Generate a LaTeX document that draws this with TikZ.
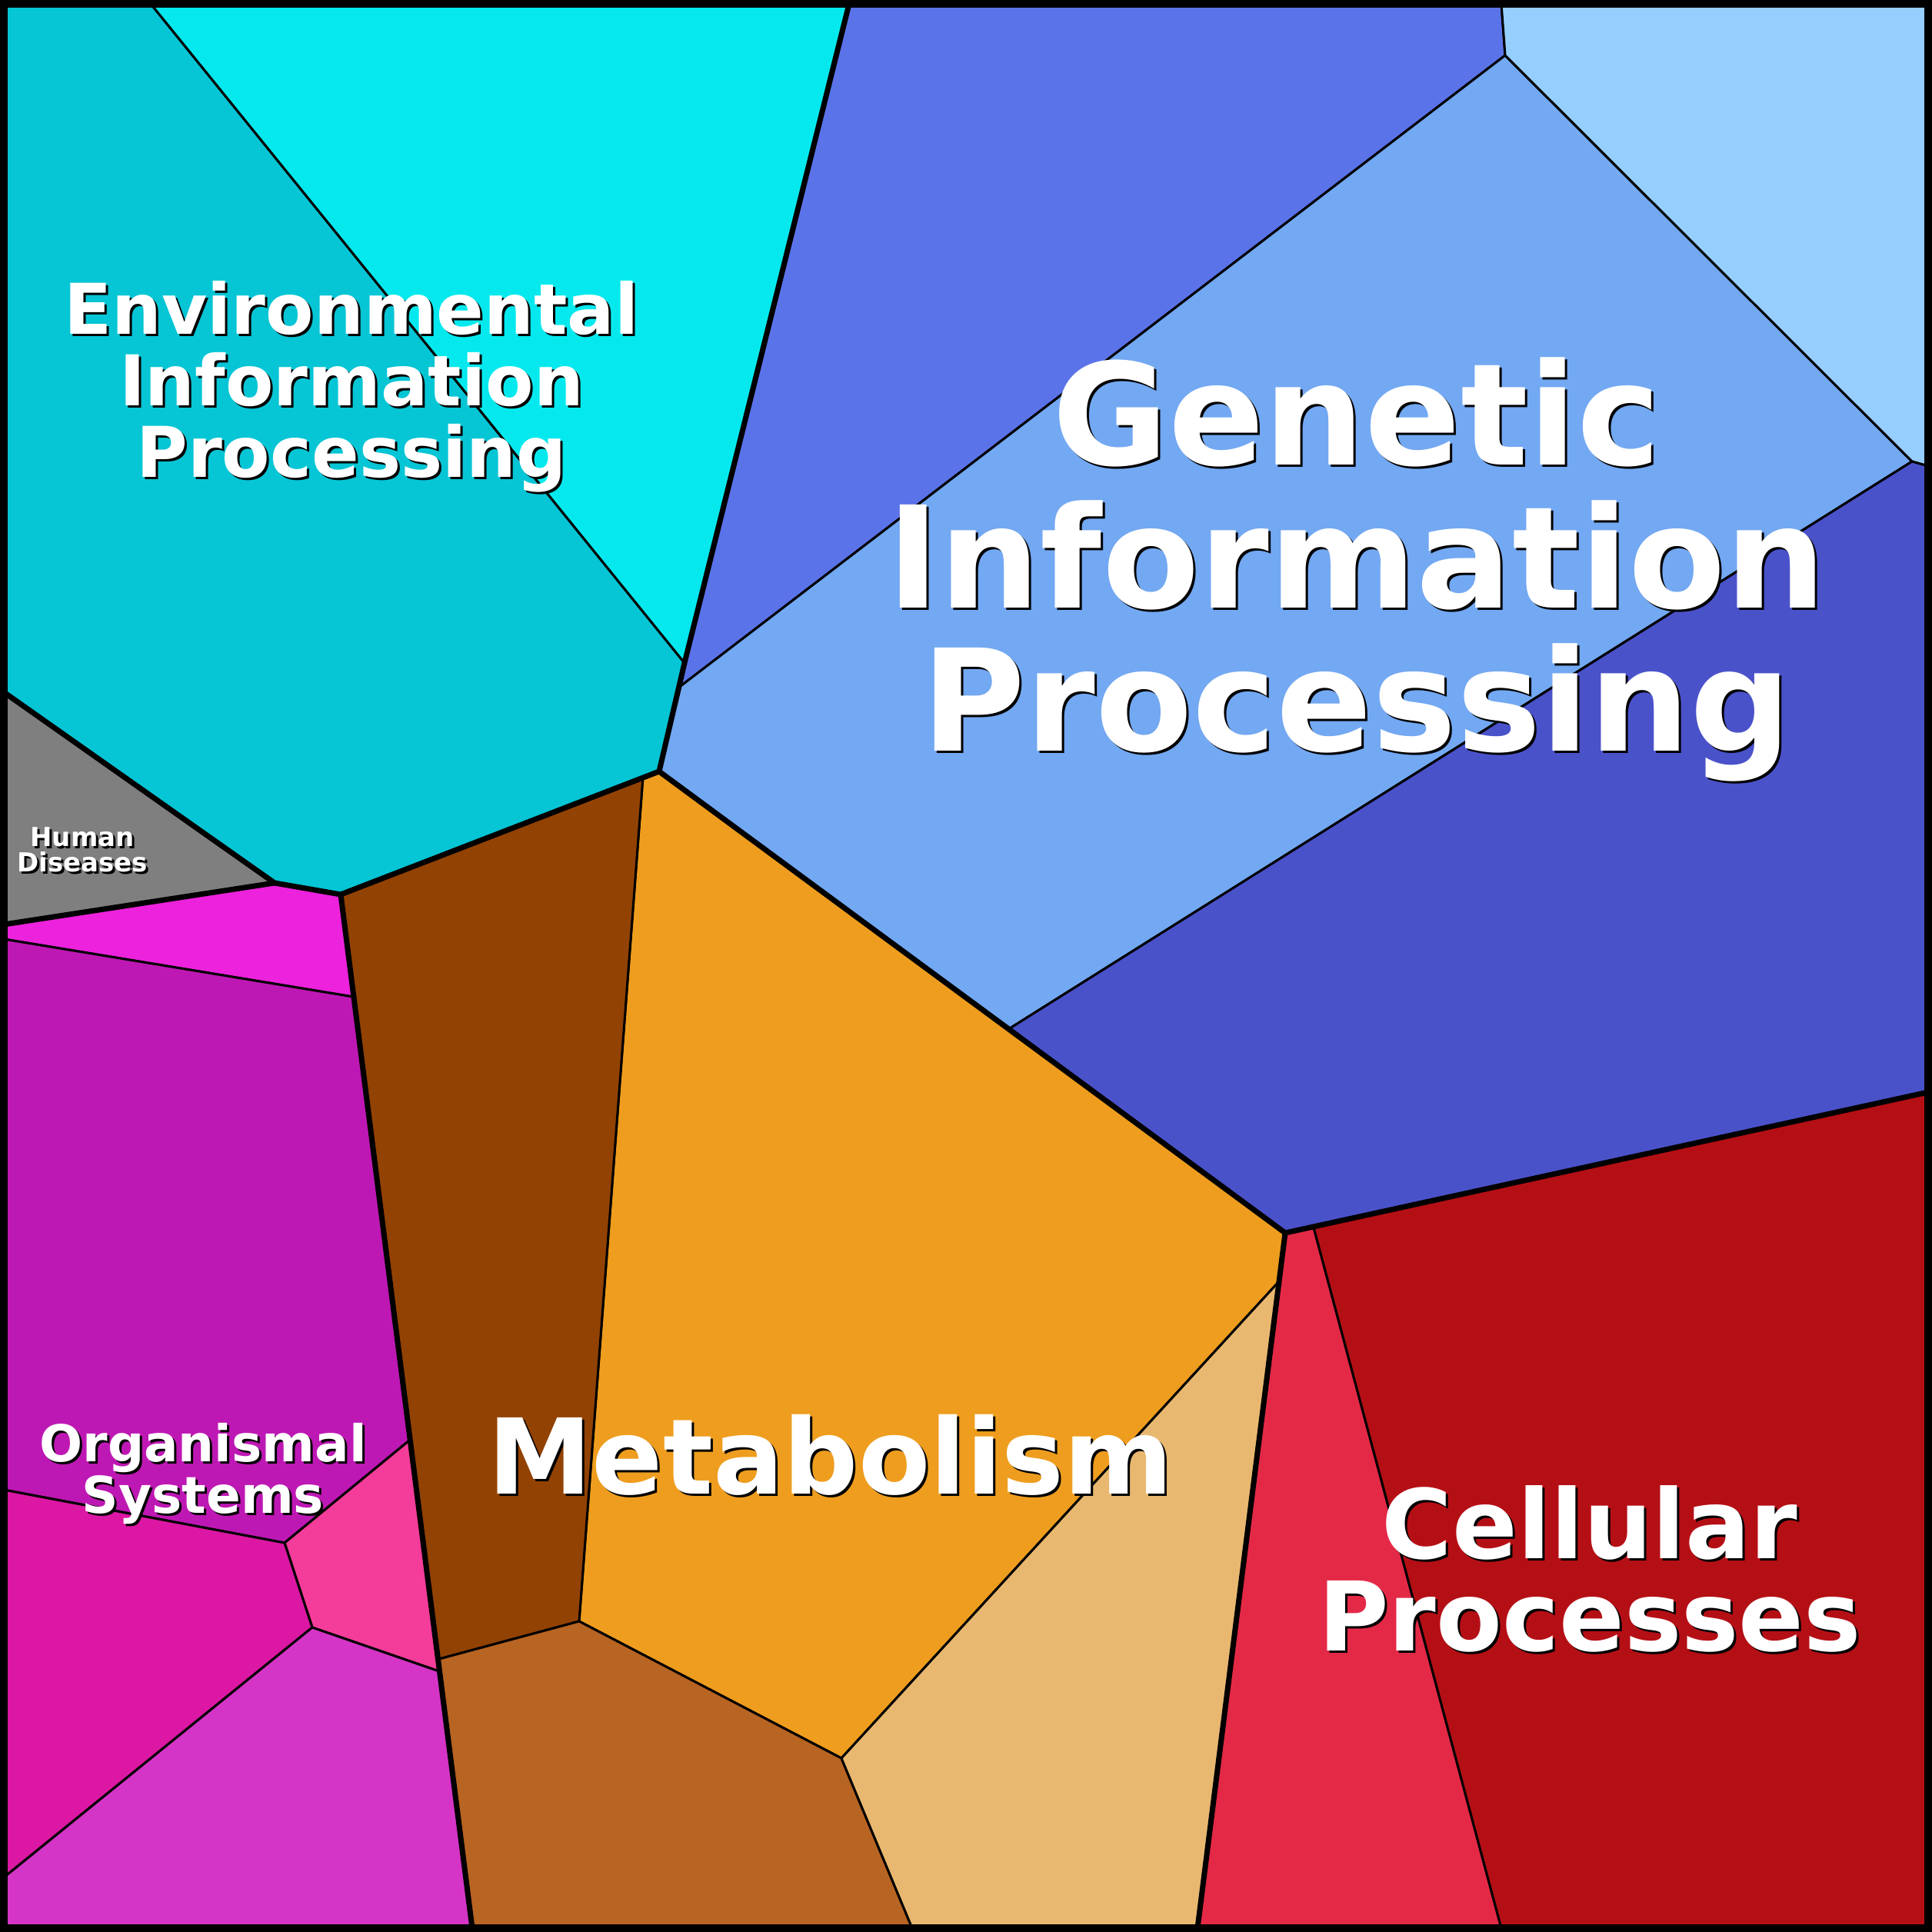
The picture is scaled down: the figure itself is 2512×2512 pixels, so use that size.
\documentclass[tikz,border=0pt]{standalone}
\usepackage{fontspec}
\setmainfont{DejaVu Sans}
\begin{document}
\begin{tikzpicture}[x=1pt,y=-1pt,
 cell/.style={draw=black,line width=3pt,line join=round},
 thick/.style={draw=black,line width=7pt,line join=round,line cap=round}]
\useasboundingbox (0,0) rectangle (2512,2512);
\definecolor{c1}{HTML}{06C5D5}\definecolor{c2}{HTML}{05E9EE}
\definecolor{c3}{HTML}{5B73E8}\definecolor{c4}{HTML}{73A8F2}
\definecolor{c5}{HTML}{96CEFD}\definecolor{c6}{HTML}{4A52CA}
\definecolor{c7}{HTML}{EE9D1E}\definecolor{c8}{HTML}{924203}
\definecolor{c9}{HTML}{B86422}\definecolor{c10}{HTML}{E8B870}
\definecolor{c11}{HTML}{E42947}\definecolor{c12}{HTML}{B50F16}
\definecolor{c13}{HTML}{7F7F7F}\definecolor{c14}{HTML}{EC22DD}
\definecolor{c15}{HTML}{BE18B4}\definecolor{c16}{HTML}{F43C9A}
\definecolor{c17}{HTML}{DB17A3}\definecolor{c18}{HTML}{D435C6}
\fill[c1,cell] (5,5)--(196,5)--(890,862)--(857,1003)--(443,1163)--(357,1148)--(5,900)--cycle;
\fill[c2,cell] (196,5)--(1104,5)--(890,862)--cycle;
\fill[c3,cell] (1104,5)--(1952,5)--(1957,72)--(885,892)--(890,862)--cycle;
\fill[c4,cell] (1957,72)--(2486,600)--(1313,1337)--(857,1003)--(885,892)--cycle;
\fill[c5,cell] (1952,5)--(2507,5)--(2507,606)--(2486,600)--(1957,72)--cycle;
\fill[c6,cell] (2486,600)--(2507,606)--(2507,1420)--(1671,1603)--(1313,1337)--cycle;
\fill[c7,cell] (857,1003)--(1313,1337)--(1671,1603)--(1664,1665)--(1094,2286)--(753,2108)--(836,1010)--cycle;
\fill[c8,cell] (857,1003)--(836,1010)--(753,2108)--(571,2157)--(443,1163)--cycle;
\fill[c9,cell] (571,2157)--(753,2108)--(1094,2286)--(1186,2507)--(614,2507)--cycle;
\fill[c10,cell] (1094,2286)--(1664,1665)--(1557,2507)--(1186,2507)--cycle;
\fill[c11,cell] (1671,1603)--(1708,1596)--(1952,2507)--(1557,2507)--cycle;
\fill[c12,cell] (1708,1596)--(2507,1420)--(2507,2507)--(1952,2507)--cycle;
\fill[c13,cell] (5,900)--(357,1148)--(5,1202)--cycle;
\fill[c14,cell] (5,1202)--(357,1148)--(443,1163)--(459,1296)--(5,1221)--cycle;
\fill[c15,cell] (5,1221)--(459,1296)--(532,1873)--(370,2006)--(5,1937)--cycle;
\fill[c16,cell] (370,2006)--(532,1873)--(571,2173)--(406,2116)--cycle;
\fill[c17,cell] (5,1937)--(370,2006)--(406,2116)--(5,2441)--cycle;
\fill[c18,cell] (5,2441)--(406,2116)--(571,2173)--(614,2507)--(5,2507)--cycle;
\draw[thick] (1104,5)--(890,862)--(857,1003)--(443,1163)--(357,1148)--(5,900);
\draw[thick] (357,1148)--(5,1202);
\draw[thick] (443,1163)--(614,2507);
\draw[thick] (857,1003)--(1671,1603)--(1557,2507);
\draw[thick] (1671,1603)--(2507,1420);
\draw[draw=black,line width=10pt] (5,5) rectangle (2507,2507);
\foreach \dx/\dy/\col in {3/3/black,0/0/white}{
\node[text=\col,font=\fontsize{184}{186}\selectfont\bfseries,align=center] (ng\col) at (1764+\dx,740+\dy) {Genetic\\Information\\Processing};
\node[text=\col,font=\fontsize{91}{93}\selectfont\bfseries,align=center] (ne\col) at (457+\dx,503+\dy) {Environmental\\Information\\Processing};
\node[text=\col,font=\fontsize{34}{33}\selectfont\bfseries,align=center] (nh\col) at (107+\dx,1105+\dy) {Human\\Diseases};
\node[text=\col,font=\fontsize{66}{67}\selectfont\bfseries,align=center] (no\col) at (264+\dx,1916+\dy) {Organismal\\Systems};
\node[text=\col,font=\fontsize{136}{138}\selectfont\bfseries,align=center] (nm\col) at (1080+\dx,1892+\dy) {Metabolism};
\node[text=\col,font=\fontsize{125}{120}\selectfont\bfseries,align=center] (nc\col) at (2067+\dx,2040+\dy) {Cellular\\Processes};
}
\end{tikzpicture}
\end{document}
